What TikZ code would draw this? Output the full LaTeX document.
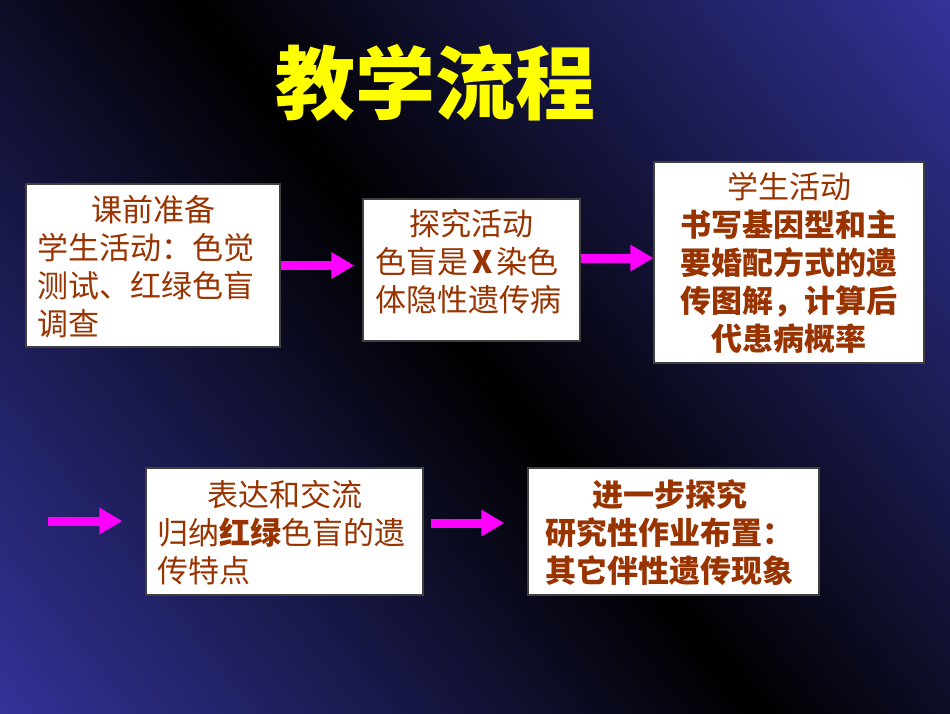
\documentclass[tikz,border=0pt]{standalone}
\usepackage{fontspec}
\setmainfont{Noto Sans CJK SC}
\usetikzlibrary{arrows.meta,calc}
\definecolor{bgblue}{HTML}{333399}
\definecolor{txtbrown}{HTML}{993300}
\definecolor{arrmag}{HTML}{FF00FF}
\definecolor{ttlyellow}{HTML}{FFFF00}
\begin{document}
\begin{tikzpicture}[x=1pt,y=-1pt,
  boxstyle/.style={draw=black!75, line width=1.2pt, fill=white, inner sep=0pt},
  txt/.style={text=txtbrown, inner sep=0pt, font=\fontsize{31}{38}\selectfont},
  flowarrow/.style={draw=arrmag, line width=9pt, -{Triangle[length=23pt 0 0, width=25pt 0 0]}},
]
\useasboundingbox (0,0) rectangle (950,713);
% background: mirrored diagonal gradient
\begin{scope}
  \clip (0,0) rectangle (950,713);
  \begin{scope}[shift={(115.6,-92.4)}, rotate=38.6]
    \foreach \s in {-700,-696,...,700} {
      \pgfmathsetmacro\bgf{min(100,abs(\s+2)/594*100)}
      \fill[bgblue!\bgf!black] (\s,-1600) rectangle (\s+5,1600);
    }
  \end{scope}
\end{scope}
% title
\node[text=ttlyellow, inner sep=0pt, font=\fontsize{80}{80}\selectfont\bfseries] (title) at (435,83) {教学流程};
% boxes
\node[boxstyle, minimum width=254pt, minimum height=163pt] (b1) at (153,265.5) {};
\node[boxstyle, minimum width=217pt, minimum height=142pt] (b2) at (471.5,270) {};
\node[boxstyle, minimum width=270pt, minimum height=201pt] (b3) at (789,262.5) {};
\node[boxstyle, minimum width=277pt, minimum height=127pt] (b4) at (284.5,531.5) {};
\node[boxstyle, minimum width=291pt, minimum height=127pt] (b5) at (673.5,531.5) {};
% texts
\node[txt, text width=232pt, align=left] (t1) at ($(b1.center)+(0,1)$)
  {\makebox[\linewidth]{课前准备}\\学生活动：色觉\\测试、红绿色盲\\调查};
\node[txt, text width=193pt, align=left] (t2) at ($(b2.center)+(0,-8)$)
  {\makebox[\linewidth]{探究活动}\\\makebox[\linewidth][l]{色盲是\hspace{4pt}{\bfseries X}\hspace{4pt}染色}\\体隐性遗传病};
\node[txt, align=center] (t3) at (b3.center)
  {学生活动\\{\bfseries 书写基因型和主}\\{\bfseries 要婚配方式的遗}\\{\bfseries 传图解，计算后}\\{\bfseries 代患病概率}};
\node[txt, text width=255pt, align=left] (t4) at ($(b4.center)+(0,1.5)$)
  {\makebox[\linewidth]{表达和交流}\\归纳{\bfseries 红绿}色盲的遗\\传特点};
\node[txt, align=center, font=\fontsize{31}{38}\selectfont\bfseries] (t5) at ($(b5.center)+(-4,1.5)$)
  {进一步探究\\研究性作业布置：\\其它伴性遗传现象};
% arrows
\coordinate (a2y) at (0,258);
\coordinate (a3s) at (48,521);
\coordinate (a4y) at (0,523);
\draw[flowarrow, shorten >=8pt] (b1.east) -- (b1.east -| b2.west);
\draw[flowarrow] (b2.east |- a2y) -- (b3.west |- a2y);
\draw[flowarrow, shorten >=23pt] (a3s) -- (a3s -| b4.west);
\draw[flowarrow, shorten <=7pt, shorten >=23pt] (b4.east |- a4y) -- (b5.west |- a4y);
\end{tikzpicture}
\end{document}
